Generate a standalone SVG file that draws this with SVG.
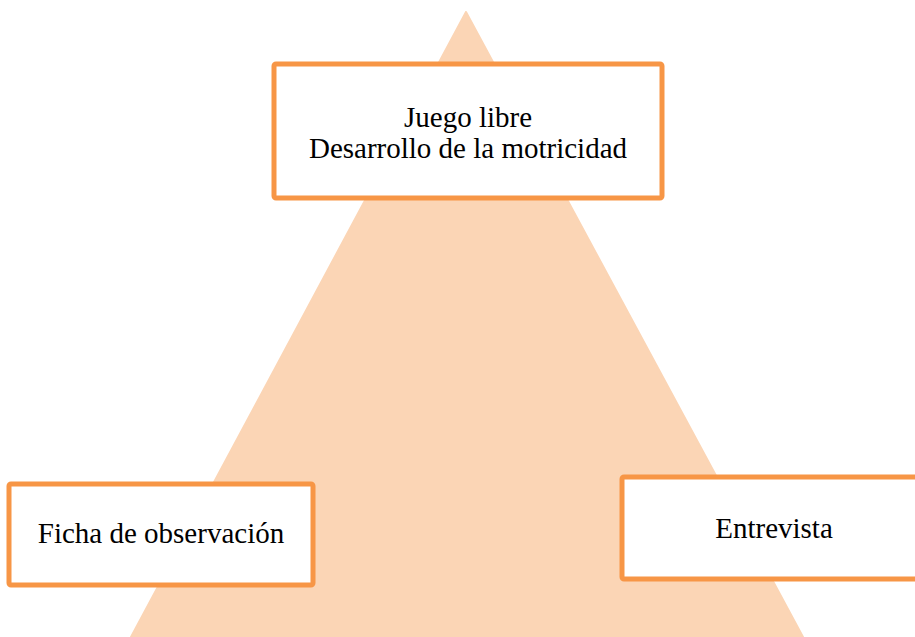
<svg xmlns="http://www.w3.org/2000/svg" width="915" height="637" viewBox="0 0 915 637">
<style>
.box{fill:#fff;stroke:#F79646;stroke-width:5;}
.t{font-family:"Liberation Serif","Times New Roman",serif;font-size:29px;fill:#000;text-anchor:middle;}
</style>
<rect width="915" height="637" fill="#fff"/>
<polygon points="466,12 131,637 803,637" fill="#FBD5B5" stroke="#FBD5B5" stroke-width="2" stroke-linejoin="round"/>
<g id="connectors"></g>
<g id="top">
<rect class="box" x="274" y="64" width="388" height="134" rx="2"/>
<text class="t" x="468" y="127">Juego libre</text>
<text class="t" x="468" y="158">Desarrollo de la motricidad</text>
</g>
<g id="left">
<rect class="box" x="9" y="484" width="304" height="101" rx="2"/>
<text class="t" x="161" y="543">Ficha de observación</text>
</g>
<g id="right">
<rect class="box" x="622" y="477" width="300" height="102" rx="2"/>
<text class="t" x="774" y="538">Entrevista</text>
</g>
</svg>
